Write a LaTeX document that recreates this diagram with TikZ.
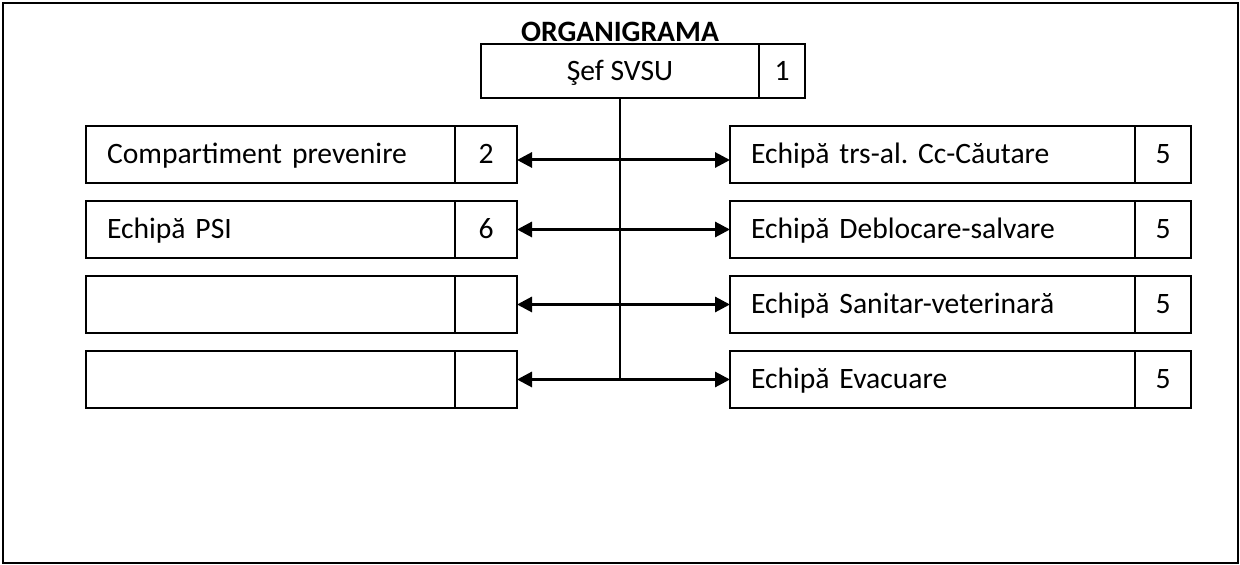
\documentclass[tikz,border=0pt]{standalone}
\usepackage{fontspec}
\setmainfont{Carlito}
\frenchspacing
\usepackage{tikz}
\usetikzlibrary{positioning,arrows.meta}
\tikzstyle{cell} = [rectangle, draw=black, line width=1pt, outer sep=0pt, minimum height=28.5pt, text height=11pt, text depth=1.6pt]
\tikzstyle{leftname} = [cell, text width=163.5pt, inner xsep=10.5pt, align=left]
\tikzstyle{rightname} = [cell, text width=181.5pt, inner xsep=10.5pt, align=left]
\tikzstyle{leftnum} = [cell, minimum width=31pt, inner xsep=0pt, text centered]
\tikzstyle{rightnum} = [cell, minimum width=28pt, inner xsep=0pt, text centered]
\tikzstyle{arrow} = [line width=1.5pt, <->, >={Triangle[length=7.5pt,width=7.5pt]}]

\begin{document}
\begin{tikzpicture}[x=0.5pt, y=-0.5pt, node distance=9pt, font=\fontsize{14.8pt}{17pt}\selectfont]
    \useasboundingbox (0,0) rectangle (1240,565);
    \draw [line width=1pt] (3,3) rectangle (1238,563);
    % chief
    \node (sef) [cell, anchor=north west, minimum width=139pt, minimum height=27pt] at (481,44) {Şef SVSU};
    \node (sefnr) [cell, right=0pt of sef, minimum width=23pt, minimum height=27pt, inner xsep=0pt] {1};
    \node (title) [above=1pt of sef, inner sep=0pt, font=\fontsize{14.8pt}{17pt}\selectfont\bfseries] {ORGANIGRAMA};
    % left column
    \node (prev) [leftname, anchor=north west] at (86,126) {Compartiment prevenire};
    \node (psi) [leftname, below=of prev] {Echipă PSI};
    \node (gol1) [leftname, below=of psi] {};
    \node (gol2) [leftname, below=of gol1] {};
    \node (prevnr) [leftnum, right=0pt of prev] {2};
    \node (psinr) [leftnum, right=0pt of psi] {6};
    \node (gol1nr) [leftnum, right=0pt of gol1] {};
    \node (gol2nr) [leftnum, right=0pt of gol2] {};
    % right column
    \node (caut) [rightname, anchor=north west] at (730,126) {Echipă trs-al. Cc-Căutare};
    \node (debl) [rightname, below=of caut] {Echipă Deblocare-salvare};
    \node (sanit) [rightname, below=of debl] {Echipă Sanitar-veterinară};
    \node (evac) [rightname, below=of sanit] {Echipă Evacuare};
    \node (cautnr) [rightnum, right=0pt of caut] {5};
    \node (deblnr) [rightnum, right=0pt of debl] {5};
    \node (sanitnr) [rightnum, right=0pt of sanit] {5};
    \node (evacnr) [rightnum, right=0pt of evac] {5};
    % links
    \draw [line width=1pt] (sef.south) -- (sef.south |- evac.west);
    \draw [arrow] ([yshift=-2.75pt]prevnr.east) -- ([yshift=-2.75pt]caut.west);
    \draw [arrow] (psinr.east) -- (debl.west);
    \draw [arrow] (gol1nr.east) -- (sanit.west);
    \draw [arrow] (gol2nr.east) -- (evac.west);
\end{tikzpicture}
\end{document}
